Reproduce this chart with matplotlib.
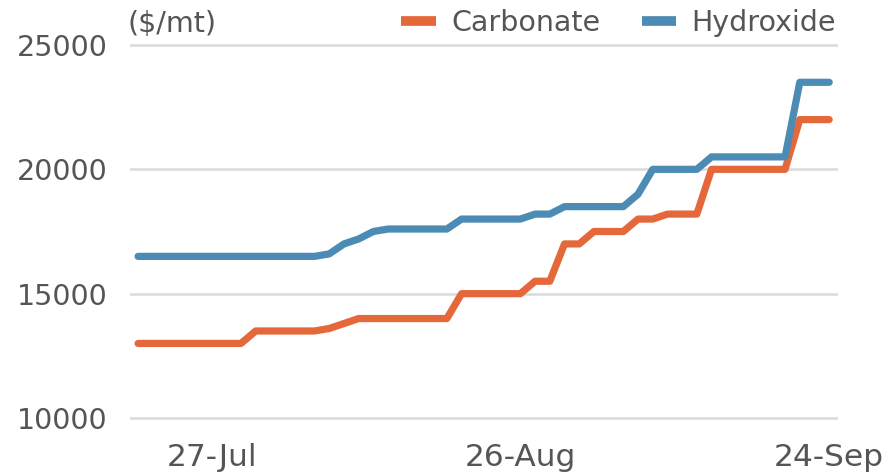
import matplotlib
matplotlib.use("Agg")
import matplotlib.pyplot as plt
import pandas as pd
import numpy as np

# Business-day categories (one local holiday removed)
dates = pd.bdate_range("2020-07-20", "2020-09-24").drop(pd.Timestamp("2020-08-10"))
tick_dates = ["2020-07-27", "2020-08-26", "2020-09-24"]

carbonate = [13000]*8 + [13500]*5 + [13600, 13800] + [14000]*7 + [15000]*5 + \
            [15500]*2 + [17000]*2 + [17500]*3 + [18000]*2 + [18200]*3 + [20000]*6 + [22000]*3
hydroxide = [16500]*13 + [16600, 17000, 17200, 17500] + [17600]*5 + [18000]*5 + \
            [18200]*2 + [18500]*5 + [19000] + [20000]*4 + [20500]*6 + [23500]*3

y_ticks = [10000, 15000, 20000, 25000]

c_orange = "#E5683A"
c_blue = "#4B8BB4"
txt = "#555555"

plt.rcParams["font.family"] = ["DejaVu Sans"]

fig = plt.figure(figsize=(8.87, 4.75), dpi=100)
W, H = 887, 475
x0, x1 = 130, 838
ytop, ybot = 42.5, 420.5
ax = fig.add_axes([x0 / W, 1 - ybot / H, (x1 - x0) / W, (ybot - ytop) / H])

x = np.arange(len(dates))
ax.plot(x, carbonate, color=c_orange, lw=5.2, solid_capstyle="round",
        solid_joinstyle="round", label="Carbonate", zorder=3)
ax.plot(x, hydroxide, color=c_blue, lw=5.2, solid_capstyle="round",
        solid_joinstyle="round", label="Hydroxide", zorder=3)

ax.set_xlim(-0.55, 47.6)
ax.set_ylim(9900, 25100)
ax.set_yticks(y_ticks)
ax.set_yticklabels([str(v) for v in y_ticks])
pos = [list(dates).index(pd.Timestamp(d)) for d in tick_dates]
ax.set_xticks(pos)
ax.set_xticklabels([pd.Timestamp(d).strftime("%d-%b") for d in tick_dates])

ax.grid(axis="y", color="#D9D9D9", lw=1.8)
ax.set_axisbelow(True)
for s in ax.spines.values():
    s.set_visible(False)
ax.tick_params(axis="both", length=0, colors=txt)
ax.tick_params(axis="y", pad=16, labelsize=20.5)
ax.tick_params(axis="x", pad=16, labelsize=22.5)

fig.text(127 / W, 1 - 24 / H, "($/mt)", fontsize=20.5, color=txt, va="center", ha="left")

leg = ax.legend(loc="center right", bbox_to_anchor=(836 / W, 1 - 23 / H),
                bbox_transform=fig.transFigure, ncol=2, frameon=False,
                fontsize=20.5, handlelength=1.2, handletextpad=0.55,
                columnspacing=1.45, borderpad=0, borderaxespad=0)
for t in leg.get_texts():
    t.set_color(txt)
for h in leg.get_lines():
    h.set_linewidth(7)
    h.set_solid_capstyle("butt")

fig.savefig("out.png", dpi=100)
